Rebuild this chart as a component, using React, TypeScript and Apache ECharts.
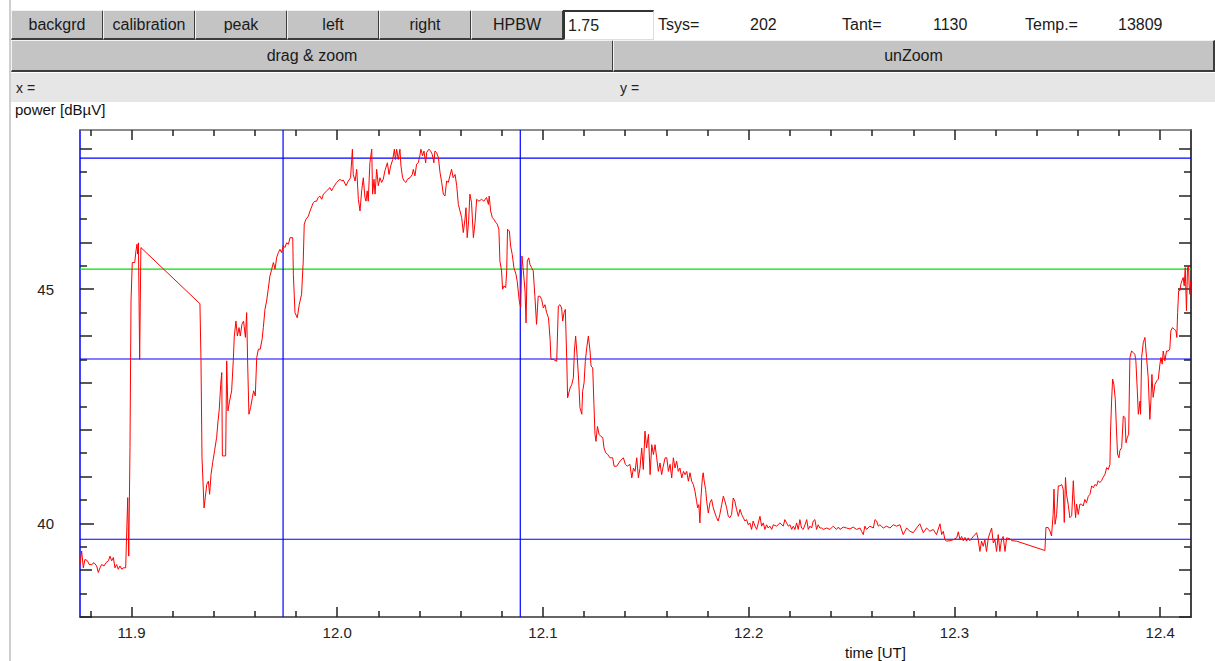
import React, { useEffect, useRef } from "react";
import * as echarts from "echarts";

const FONT = "'Liberation Sans', Arial, Helvetica, sans-serif";

// ---- data: [time (UT), power (dBµV)] ----
const riseSegment: number[][] = [
  [11.875, 39.12], [11.8758, 39.41], [11.8766, 39.05], [11.8774, 39.23], [11.8786, 39.2], [11.8795, 39.12], [11.8807, 39.12], [11.8818, 39.16], [11.8831, 39.09], [11.8839, 38.95], [11.8847, 39.05], [11.8855, 39.12], [11.8867, 39.09], [11.8876, 39.16], [11.8888, 39.2], [11.8896, 39.3], [11.8904, 39.2], [11.8912, 39.27], [11.892, 39.05], [11.8928, 39.12], [11.8936, 39.02], [11.8944, 39.09], [11.8953, 39.02], [11.8961, 39.05], [11.8972, 39.05], [11.8977, 39.8], [11.8982, 40.55], [11.8987, 39.3], [11.8993, 41.62], [11.8998, 44.75], [11.9004, 45.57], [11.9016, 45.57], [11.9022, 45.82], [11.9027, 45.96], [11.903, 45.75], [11.9034, 45.99], [11.9037, 44.75], [11.904, 43.5], [11.9043, 44.71], [11.9046, 45.89], [11.9333, 44.69], [11.9338, 43.5], [11.9343, 41.4], [11.9353, 40.33], [11.9359, 40.55], [11.9366, 40.83], [11.9374, 40.9], [11.938, 40.62], [11.9387, 41.05], [11.9395, 41.3], [11.9404, 41.55], [11.9414, 41.83], [11.9421, 42.19], [11.9427, 42.44], [11.9434, 42.97], [11.9439, 43.22], [11.9442, 41.44], [11.9458, 41.44], [11.9463, 43.47], [11.9469, 42.4], [11.9477, 42.61], [11.9487, 42.83], [11.9495, 43.47], [11.95, 44.0], [11.9508, 44.32], [11.9515, 44.0], [11.9523, 44.18], [11.9529, 44.0], [11.9537, 44.25], [11.9545, 44.32], [11.9554, 43.97], [11.956, 44.5], [11.9565, 43.4], [11.9571, 42.33], [11.9579, 42.47], [11.9588, 42.69], [11.9594, 42.83], [11.9602, 42.72], [11.9609, 43.54], [11.9617, 43.72], [11.9626, 43.72], [11.9635, 43.93], [11.9641, 44.18], [11.9649, 44.57], [11.9657, 44.75], [11.9665, 45.0], [11.9673, 45.28], [11.9682, 45.43], [11.969, 45.57], [11.9698, 45.43], [11.9706, 45.68], [11.9714, 45.78], [11.9722, 45.85], [11.973, 45.78], [11.9738, 45.93], [11.9746, 45.89], [11.9754, 45.99], [11.9763, 45.96], [11.9771, 46.1], [11.9784, 46.1],
];

const peakSegment: number[][] = [
  [11.9787, 45.32], [11.9795, 44.5], [11.9806, 44.39], [11.9816, 44.68], [11.9827, 44.89], [11.9835, 45.6], [11.984, 46.39], [11.9848, 46.49], [11.986, 46.56], [11.9868, 46.67], [11.9884, 46.85], [11.9892, 46.88], [11.99, 46.88], [11.9908, 46.96], [11.9916, 46.99], [11.9925, 46.92], [11.9933, 47.03], [11.9949, 47.1], [11.9965, 47.17], [11.9973, 47.1], [11.9981, 47.17], [11.9997, 47.28], [12.0014, 47.35], [12.0022, 47.31], [12.003, 47.33], [12.0043, 47.21], [12.0054, 47.31], [12.0065, 47.38], [12.0074, 47.99], [12.0078, 47.45], [12.0087, 47.31], [12.0095, 47.56], [12.0103, 46.92], [12.0111, 46.67], [12.0119, 47.1], [12.0127, 47.38], [12.0135, 46.96], [12.014, 46.88], [12.0146, 47.1], [12.0151, 46.88], [12.0159, 47.7], [12.0168, 47.99], [12.0172, 47.03], [12.0179, 47.35], [12.0184, 47.03], [12.0192, 47.56], [12.02, 47.21], [12.0208, 47.38], [12.0216, 47.28], [12.0224, 47.35], [12.0232, 47.53], [12.0244, 47.7], [12.0252, 47.45], [12.026, 47.63], [12.027, 47.77], [12.0278, 47.99], [12.0283, 47.77], [12.0289, 47.99], [12.0297, 47.77], [12.0305, 47.99], [12.031, 47.63], [12.0318, 47.38], [12.0326, 47.31], [12.0334, 47.28], [12.0342, 47.35], [12.0354, 47.38], [12.0365, 47.45], [12.037, 47.56], [12.0378, 47.42], [12.0386, 47.67], [12.0394, 47.7], [12.0402, 47.85], [12.0407, 47.99], [12.0415, 47.85], [12.0422, 47.95], [12.043, 47.7], [12.0435, 47.92], [12.0446, 47.99], [12.0454, 47.95], [12.0462, 47.88], [12.047, 47.7], [12.0475, 47.95], [12.0483, 47.92], [12.0492, 47.81], [12.05, 47.49], [12.0508, 47.28], [12.0516, 47.03], [12.0524, 46.99], [12.0532, 47.31], [12.054, 47.28], [12.0548, 47.42], [12.0556, 47.56], [12.0564, 47.38], [12.0573, 47.45], [12.0581, 47.21], [12.0589, 46.81], [12.0597, 46.67], [12.0605, 46.53], [12.0613, 46.21], [12.0621, 46.49], [12.0626, 46.74], [12.0632, 46.1], [12.0639, 46.46], [12.0645, 47.03], [12.0653, 46.85], [12.0662, 46.1], [12.067, 46.42], [12.0678, 46.92], [12.0689, 46.88], [12.0702, 46.92], [12.0713, 46.88], [12.0726, 46.96], [12.0735, 46.81], [12.0739, 46.99], [12.0746, 46.67], [12.0754, 46.53], [12.0762, 46.49], [12.0772, 46.42], [12.0778, 46.39], [12.0786, 46.28], [12.0791, 45.6], [12.0799, 45.39], [12.0804, 45.0], [12.0811, 45.07], [12.0819, 45.03], [12.0824, 45.39], [12.0828, 46.28], [12.0837, 46.24], [12.0843, 45.92], [12.0851, 45.74], [12.0859, 45.46], [12.0869, 45.32], [12.0875, 45.17], [12.0885, 44.75], [12.0892, 44.61], [12.0898, 45.71], [12.0905, 45.39], [12.0913, 44.96], [12.0918, 44.28], [12.0924, 45.6], [12.0931, 45.67], [12.0937, 45.53], [12.0945, 45.46], [12.0953, 45.39], [12.0961, 44.85], [12.0969, 44.25], [12.0977, 44.85],
];

const declineSegment: number[][] = [
  [12.0986, 44.85], [12.0994, 44.78], [12.1002, 44.6], [12.101, 44.67], [12.1018, 44.5], [12.1027, 44.39], [12.1035, 43.93], [12.1039, 43.5], [12.1051, 43.5], [12.1067, 43.46], [12.1075, 44.64], [12.1083, 44.67], [12.1091, 44.6], [12.1096, 44.32], [12.1103, 44.5], [12.1109, 44.57], [12.1116, 43.46], [12.112, 42.68], [12.1132, 42.89], [12.114, 42.96], [12.1148, 43.11], [12.1153, 43.68], [12.1159, 44.0], [12.1167, 43.54], [12.1174, 43.04], [12.118, 42.47], [12.1189, 42.33], [12.1193, 42.82], [12.12, 43.0], [12.1206, 43.46], [12.1213, 43.75], [12.1221, 44.0], [12.1229, 43.68], [12.1234, 43.36], [12.1242, 43.32], [12.1248, 42.54], [12.1253, 41.9], [12.1258, 41.75], [12.1265, 42.07], [12.1273, 41.9], [12.1281, 41.86], [12.1291, 41.83], [12.1297, 41.61], [12.1305, 41.51], [12.1315, 41.47], [12.1326, 41.4], [12.1339, 41.4], [12.1346, 41.22], [12.1359, 41.22], [12.1375, 41.33], [12.1391, 41.4], [12.1401, 41.26], [12.141, 41.22], [12.1423, 41.26], [12.1432, 40.97], [12.144, 41.18], [12.1448, 41.11], [12.1456, 41.4], [12.1464, 40.97], [12.1472, 41.18], [12.148, 41.61], [12.1488, 41.15], [12.1496, 41.97], [12.1504, 41.61], [12.1513, 41.9], [12.1521, 41.04], [12.1529, 41.68], [12.1537, 41.47], [12.1545, 41.68], [12.1553, 41.4], [12.1561, 41.11], [12.1569, 41.29], [12.1577, 41.04], [12.1585, 41.22], [12.1594, 41.4], [12.1602, 41.4], [12.161, 41.11], [12.1618, 41.26], [12.1626, 40.97], [12.1634, 41.4], [12.1642, 41.18], [12.165, 41.33], [12.1658, 41.11], [12.1666, 41.18], [12.1675, 40.97], [12.1683, 41.11], [12.1691, 41.04], [12.1699, 41.11],
  [12.1707, 40.9], [12.1715, 41.08], [12.1723, 40.9], [12.1731, 40.83], [12.1739, 40.69], [12.1747, 40.47], [12.1752, 40.33], [12.1758, 40.4], [12.1763, 40.01], [12.1768, 40.54], [12.1775, 40.97], [12.1779, 41.08], [12.1784, 40.9], [12.1791, 40.72], [12.1796, 40.47], [12.1804, 40.22], [12.1812, 40.44], [12.182, 40.51], [12.1828, 40.33], [12.1836, 40.22], [12.1844, 40.12], [12.1852, 40.05], [12.186, 40.19], [12.1869, 40.4], [12.1877, 40.58], [12.1885, 40.47], [12.1893, 40.33], [12.1901, 40.15], [12.1909, 40.12], [12.1917, 40.19], [12.1925, 40.54], [12.1933, 40.47], [12.1941, 40.3], [12.195, 40.15], [12.1958, 40.3], [12.1966, 40.19], [12.1974, 40.12], [12.1982, 40.05], [12.199, 40.08], [12.1998, 39.97],
];

const floorSegment: number[][] = [
  [12.2006, 40.01], [12.2014, 39.87], [12.2022, 40.05], [12.2031, 39.94], [12.2039, 39.87], [12.2047, 40.01], [12.2055, 40.15], [12.2063, 39.94], [12.2071, 40.01], [12.2079, 39.87], [12.2087, 39.97], [12.2095, 39.9], [12.2103, 39.94], [12.2112, 39.87], [12.212, 39.97], [12.2136, 39.94], [12.2152, 40.01], [12.2168, 39.94], [12.2176, 40.08], [12.2184, 40.01], [12.2193, 39.94], [12.2201, 39.97], [12.2209, 39.87], [12.2217, 39.94], [12.2225, 39.87], [12.2233, 40.01], [12.2241, 39.87], [12.2249, 40.08], [12.2257, 39.9], [12.2265, 39.87], [12.2274, 39.97], [12.2282, 40.08], [12.229, 39.87], [12.2298, 39.94], [12.2306, 39.9], [12.2314, 40.05], [12.2322, 40.08], [12.233, 39.87], [12.2338, 39.97], [12.2346, 39.9], [12.2355, 39.9], [12.2363, 39.87], [12.2379, 39.9], [12.2395, 39.87], [12.2411, 39.94], [12.2427, 39.87], [12.2436, 39.92], [12.2444, 39.87], [12.246, 39.92], [12.2476, 39.9], [12.2492, 39.88], [12.2508, 39.92], [12.2525, 39.87], [12.2541, 39.9], [12.2549, 39.83], [12.2557, 39.76], [12.2565, 39.94], [12.2573, 39.87], [12.2589, 39.94], [12.2606, 39.9], [12.2614, 40.08], [12.2622, 40.05], [12.263, 39.94], [12.2638, 39.97], [12.2654, 39.9], [12.267, 39.94], [12.2687, 39.9], [12.2703, 39.97], [12.2719, 39.94], [12.2735, 39.97],
  [12.2751, 39.76], [12.2768, 39.9], [12.2784, 39.83], [12.28, 39.8], [12.2816, 39.9], [12.2832, 39.99], [12.2849, 39.8], [12.2865, 39.9], [12.2881, 39.83], [12.2897, 39.87], [12.2913, 39.76], [12.293, 39.99], [12.2938, 39.76], [12.2946, 39.83], [12.2954, 39.65], [12.2962, 39.62], [12.2978, 39.63], [12.2994, 39.65], [12.3011, 39.69], [12.3019, 39.82], [12.3027, 39.65], [12.3035, 39.72], [12.3043, 39.63], [12.3051, 39.7], [12.3059, 39.62], [12.3067, 39.69], [12.3075, 39.63], [12.3092, 39.72], [12.3108, 39.8], [12.3116, 39.65], [12.3124, 39.4], [12.3132, 39.62], [12.314, 39.51], [12.3148, 39.65], [12.3156, 39.4], [12.3165, 39.69], [12.3173, 39.8], [12.3181, 39.9], [12.3189, 39.58], [12.3197, 39.65], [12.3205, 39.4], [12.3213, 39.76], [12.3221, 39.4], [12.3229, 39.65], [12.3237, 39.72], [12.3246, 39.4], [12.3254, 39.69], [12.327, 39.67], [12.3278, 39.63], [12.3302, 39.62], [12.344, 39.42],
];

const recoverySegment: number[][] = [
  [12.3445, 39.91], [12.3456, 39.91], [12.3464, 39.84], [12.3472, 39.73], [12.348, 40.19], [12.3484, 40.73], [12.3489, 39.98], [12.3497, 40.19], [12.3505, 40.8], [12.3513, 40.8], [12.3521, 40.83], [12.3529, 40.73], [12.3534, 40.02], [12.354, 40.98], [12.3545, 40.62], [12.3553, 40.41], [12.3561, 40.12], [12.357, 40.16], [12.3578, 40.91], [12.3582, 40.55], [12.3589, 40.12], [12.3594, 40.41], [12.3602, 40.19], [12.361, 40.41], [12.3618, 40.41], [12.3626, 40.37], [12.3634, 40.51], [12.3642, 40.44], [12.3651, 40.58], [12.3659, 40.62], [12.3667, 40.8], [12.3675, 40.76], [12.3683, 40.83], [12.3691, 40.8], [12.3699, 40.91], [12.3707, 40.87], [12.3715, 40.91], [12.3723, 40.98], [12.3732, 41.05], [12.374, 41.19], [12.3748, 41.15], [12.3756, 41.26], [12.3759, 41.97], [12.3764, 42.61], [12.3769, 43.08], [12.3775, 42.97], [12.3782, 42.65], [12.3788, 41.97], [12.3793, 41.48], [12.38, 41.4], [12.3804, 41.55], [12.3813, 41.62], [12.3821, 42.29], [12.3829, 42.26], [12.3834, 41.72], [12.384, 41.83], [12.3847, 41.9], [12.3853, 43.54], [12.3861, 43.68], [12.3869, 43.65], [12.3877, 43.61], [12.3882, 43.47], [12.3889, 42.83], [12.3894, 42.33], [12.3902, 42.61], [12.3905, 42.33], [12.391, 43.54], [12.3918, 43.86], [12.3926, 43.97], [12.3934, 43.54], [12.3942, 43.11], [12.395, 42.22], [12.3955, 42.61], [12.396, 43.18], [12.3966, 42.69], [12.3975, 42.97], [12.3983, 43.04], [12.3991, 43.08], [12.3999, 43.4], [12.4004, 43.54], [12.401, 43.4], [12.4015, 43.68], [12.4023, 43.47], [12.4031, 43.68], [12.4039, 43.68], [12.4047, 43.72], [12.4052, 44.11], [12.406, 44.18], [12.4068, 44.15], [12.4077, 44.11], [12.4081, 43.97], [12.4085, 44.5], [12.409, 44.97], [12.4096, 44.97], [12.4101, 45.11], [12.4106, 45.18], [12.4112, 45.25], [12.4117, 45.07], [12.4122, 45.46], [12.4128, 44.54], [12.4133, 45.46], [12.4138, 45.5], [12.4141, 45.07], [12.4145, 44.89], [12.4148, 45.18],
];

// ---- axes ----
const X_MIN = 11.875;
const X_MAX = 12.415;
const Y_MIN = 38;
const Y_MAX = 48.4;
const xMajorTicks = [11.9, 12.0, 12.1, 12.2, 12.3, 12.4];
const xMinorTicks = [11.88, 11.92, 11.94, 11.96, 11.98, 12.02, 12.04, 12.06, 12.08, 12.12, 12.14, 12.16, 12.18, 12.22, 12.24, 12.26, 12.28, 12.32, 12.34, 12.36, 12.38];
const yLabelTicks = [40, 45];
const yUnitTicks = [38, 39, 41, 42, 43, 44, 46, 47, 48];
const yHalfTicks = [38.5, 39.5, 40.5, 41.5, 42.5, 43.5, 44.5, 45.5, 46.5, 47.5];

// ---- cursor / level markers ----
const levelLines = [
  { value: 47.8, color: "#0000ff" },
  { value: 45.43, color: "#00e000" },
  { value: 43.51, color: "#0000ff" },
  { value: 39.66, color: "#0000ff" },
];
const timeCursors = [11.9737, 12.089];

// ---- UI texts ----
const topButtons = ["backgrd", "calibration", "peak", "left", "right", "HPBW"];
const hpbwValue = "1.75";
const readouts = ["Tsys=", "202", "Tant=", "1130", "Temp.=", "13809"];
const readoutLeft = [658, 750, 842, 933, 1025, 1118];

const TICK_COLOR = "#222";

function tickAxis(position: string, values: number[], length: number, kind: "x" | "y", extra: any = {}) {
  const base: any = {
    type: "value",
    position,
    min: kind === "x" ? X_MIN : Y_MIN,
    max: kind === "x" ? X_MAX : Y_MAX,
    splitLine: { show: false },
    axisLine: { show: false, onZero: false },
    axisLabel: { show: false },
    axisTick: { show: true, inside: true, length, customValues: values, lineStyle: { color: TICK_COLOR, width: 1.5 } },
  };
  return { ...base, ...extra };
}

function markerSeries(points: number[][], color: string) {
  return {
    type: "line",
    xAxisIndex: 0,
    yAxisIndex: 0,
    data: points,
    showSymbol: false,
    symbol: "none",
    silent: true,
    clip: true,
    lineStyle: { color, width: 1.2 },
    z: 2,
  };
}

function buildOption(): any {
  const data = [...riseSegment, ...peakSegment, ...declineSegment, ...floorSegment, ...recoverySegment];
  const labelStyle = { fontSize: 15, color: "#222", fontFamily: FONT };
  const markers = [
    ...levelLines.map((l) => markerSeries([[X_MIN, l.value], [X_MAX, l.value]], l.color)),
    ...timeCursors.map((t) => markerSeries([[t, Y_MIN], [t, Y_MAX]], "#0000ff")),
  ];
  return {
    animation: false,
    backgroundColor: "transparent",
    grid: { left: 80, top: 130, width: 1111, height: 487, containLabel: false },
    xAxis: [
      tickAxis("bottom", xMajorTicks, 10, "x", {
        axisLine: { show: true, onZero: false, lineStyle: { color: "#333", width: 1.5 } },
        axisLabel: { show: true, customValues: xMajorTicks, margin: 8, formatter: (v: number) => v.toFixed(1), ...labelStyle },
      }),
      tickAxis("bottom", xMinorTicks, 6, "x"),
      tickAxis("top", xMajorTicks, 10, "x", {
        axisLine: { show: true, onZero: false, lineStyle: { color: "#666", width: 1.5 } },
      }),
      tickAxis("top", xMinorTicks, 6, "x"),
    ],
    yAxis: [
      tickAxis("left", yLabelTicks, 14, "y", {
        axisLine: { show: true, onZero: false, lineStyle: { color: "#0000ff", width: 1.5 } },
        axisLabel: { show: true, customValues: yLabelTicks, margin: 26, formatter: (v: number) => String(v), ...labelStyle },
      }),
      tickAxis("left", yUnitTicks, 12, "y"),
      tickAxis("left", yHalfTicks, 7, "y"),
      tickAxis("right", yLabelTicks, 13, "y", {
        axisLine: { show: true, onZero: false, lineStyle: { color: "#444", width: 2 } },
      }),
      tickAxis("right", yUnitTicks, 12, "y"),
      tickAxis("right", yHalfTicks, 7, "y"),
    ],
    series: [
      ...markers,
      {
        type: "line",
        xAxisIndex: 0,
        yAxisIndex: 0,
        data,
        showSymbol: false,
        symbol: "none",
        smooth: false,
        clip: true,
        lineStyle: { color: "#ff0000", width: 1 },
        z: 3,
      },
    ],
    graphic: [
      { type: "text", left: 15, top: 102, style: { text: "power [dBµV]", fontSize: 15, fill: "#111", fontFamily: FONT } },
      { type: "text", left: 845, top: 645, style: { text: "time [UT]", fontSize: 15, fill: "#111", fontFamily: FONT } },
    ],
  };
}

const btnStyle = (left: number, top: number, width: number, height: number): React.CSSProperties => ({
  position: "absolute",
  left,
  top,
  width,
  height,
  boxSizing: "border-box",
  background: "#c4c4c4",
  borderTop: "1px solid #f2f2f2",
  borderLeft: "1px solid #f2f2f2",
  borderRight: "2px solid #3c3c3c",
  borderBottom: "2px solid #3c3c3c",
  display: "flex",
  alignItems: "center",
  justifyContent: "center",
  fontSize: 16,
  color: "#1a1a1a",
  whiteSpace: "nowrap",
});

export default function App() {
  const ref = useRef<HTMLDivElement>(null);
  useEffect(() => {
    if (!ref.current) return;
    const chart = echarts.init(ref.current, undefined, { renderer: "svg" });
    chart.setOption(buildOption());
    return () => chart.dispose();
  }, []);

  return (
    <div style={{ position: "fixed", left: 0, top: 0, width: 1215, height: 661, background: "#fff", overflow: "hidden", fontFamily: FONT }}>
      <div ref={ref} style={{ position: "absolute", left: 0, top: 0, width: 1215, height: 661 }} />
      <div style={{ position: "absolute", left: 9, top: 0, width: 2, height: 661, background: "#cfcfcf" }} />
      {topButtons.map((b, i) => (
        <div key={b} style={btnStyle(11 + i * 92, 10, 93, 30)}>{b}</div>
      ))}
      <div
        style={{
          position: "absolute", left: 563, top: 10, width: 91, height: 30, boxSizing: "border-box", background: "#fff",
          borderTop: "2px solid #333", borderLeft: "2px solid #333", borderRight: "1px solid #ddd", borderBottom: "1px solid #ddd",
          fontSize: 16, color: "#222", paddingLeft: 3, display: "flex", alignItems: "center",
        }}
      >
        {hpbwValue}
      </div>
      {readouts.map((r, i) => (
        <div key={r} style={{ position: "absolute", left: readoutLeft[i], top: 10, height: 30, display: "flex", alignItems: "center", fontSize: 16, color: "#1a1a1a" }}>{r}</div>
      ))}
      <div style={btnStyle(11, 40, 603, 32)}>drag &amp; zoom</div>
      <div style={btnStyle(613, 40, 602, 32)}>unZoom</div>
      <div style={{ position: "absolute", left: 11, top: 73, width: 1204, height: 29, background: "#e6e6e6" }} />
      <div style={{ position: "absolute", left: 16, top: 73, height: 29, display: "flex", alignItems: "center", fontSize: 14, color: "#222" }}>x =</div>
      <div style={{ position: "absolute", left: 620, top: 73, height: 29, display: "flex", alignItems: "center", fontSize: 14, color: "#222" }}>y =</div>
    </div>
  );
}
